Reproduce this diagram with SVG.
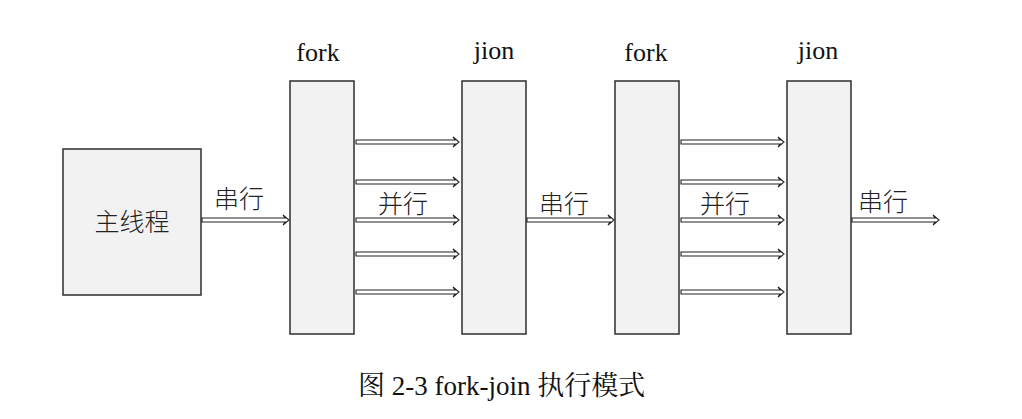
<svg xmlns="http://www.w3.org/2000/svg" width="1022" height="419" viewBox="0 0 1022 419">
<style>
.box{fill:#f2f2f2;stroke:#3a3a3a;stroke-width:1.6}
.arr{fill:#fff;stroke:#222;stroke-width:1.1}
.lbl{font-family:"Liberation Serif","Times New Roman",serif;font-size:26px;fill:#111}
.cn{font-family:"Noto Sans CJK SC",sans-serif;font-size:25px;font-weight:300;fill:#222}
.cap{font-family:"Liberation Serif","Noto Serif CJK SC","Noto Sans CJK SC",serif;font-size:27px;fill:#111}
</style>
<rect width="1022" height="419" fill="#fff"/>
<g id="main"><rect class="box" x="63" y="149" width="138" height="146"/><text class="cn" x="132" y="231" text-anchor="middle" font-size="26">主线程</text></g>
<g id="fork1"><rect class="box" x="290" y="81" width="64" height="253"/><text class="lbl" x="318" y="61" text-anchor="middle">fork</text></g>
<g id="jion1"><rect class="box" x="462" y="81" width="64" height="253"/><text class="lbl" x="494" y="59" text-anchor="middle">jion</text></g>
<g id="fork2"><rect class="box" x="615" y="81" width="64" height="253"/><text class="lbl" x="646" y="61" text-anchor="middle">fork</text></g>
<g id="jion2"><rect class="box" x="787" y="81" width="64" height="253"/><text class="lbl" x="818" y="59" text-anchor="middle">jion</text></g>
<g id="connectors">
<path class="arr" d="M202 218 H285 L283 215 L289 220 L283 225 L285 222 H202 Z"/>
<path class="arr" d="M356 140 H455 L453 137 L459 142 L453 147 L455 144 H356 Z"/>
<path class="arr" d="M356 180 H455 L453 177 L459 182 L453 187 L455 184 H356 Z"/>
<path class="arr" d="M356 218 H455 L453 215 L459 220 L453 225 L455 222 H356 Z"/>
<path class="arr" d="M356 252 H455 L453 249 L459 254 L453 259 L455 256 H356 Z"/>
<path class="arr" d="M356 290 H455 L453 287 L459 292 L453 297 L455 294 H356 Z"/>
<path class="arr" d="M527 218 H610 L608 215 L614 220 L608 225 L610 222 H527 Z"/>
<path class="arr" d="M681 140 H780 L778 137 L784 142 L778 147 L780 144 H681 Z"/>
<path class="arr" d="M681 180 H780 L778 177 L784 182 L778 187 L780 184 H681 Z"/>
<path class="arr" d="M681 218 H780 L778 215 L784 220 L778 225 L780 222 H681 Z"/>
<path class="arr" d="M681 252 H780 L778 249 L784 254 L778 259 L780 256 H681 Z"/>
<path class="arr" d="M681 290 H780 L778 287 L784 292 L778 297 L780 294 H681 Z"/>
<path class="arr" d="M852 218 H935 L933 215 L939 220 L933 225 L935 222 H852 Z"/>
<text class="cn" x="214" y="208">串行</text>
<text class="cn" x="378" y="213">并行</text>
<text class="cn" x="539" y="213">串行</text>
<text class="cn" x="700" y="213">并行</text>
<text class="cn" x="858" y="211">串行</text>
</g>
<text class="cap" x="358" y="395">图 2-3 fork-join 执行模式</text>
</svg>
